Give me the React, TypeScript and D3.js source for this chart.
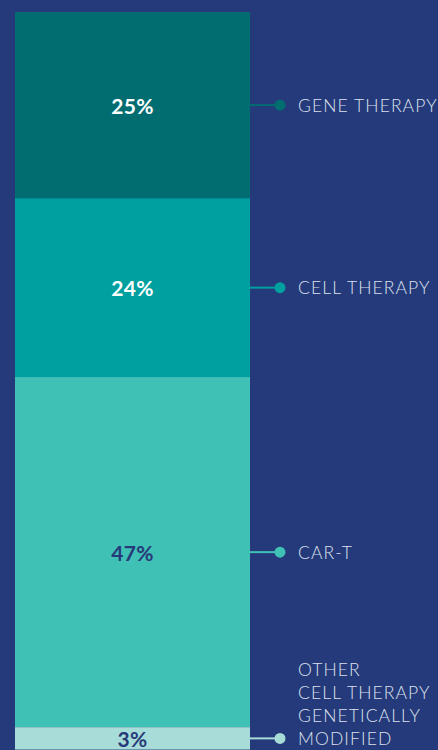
import React from "react";
import * as d3 from "d3";

const categories = ["GENE THERAPY", "CELL THERAPY", "CAR-T", "OTHER\nCELL THERAPY\nGENETICALLY\nMODIFIED"];
const values = [25, 24, 47, 3];
const fills = ["#026d71", "#00a0a0", "#3fc1b5", "#a8dcd8"];
const valueTextColors = ["#ffffff", "#ffffff", "#263a7a", "#263a7a"];

const W = 438;
const H = 750;
const BG = "#253a7b";

export default function App() {
  const y = d3.scaleLinear().domain([0, 100]).range([12, 757]);
  const x0 = 15;
  const x1 = 250;
  const dotX = 280;
  const textX = 298;
  const cum = d3.cumsum(values);
  const segs = values.map((v, i) => {
    const start = i === 0 ? 0 : cum[i - 1];
    const end = cum[i];
    return { v, i, y0: y(start), y1: y(end), mid: (y(start) + y(end)) / 2 };
  });
  return (
    <svg width={W} height={H} style={{ position: "fixed", left: 0, top: 0 }}>
      <rect x={0} y={0} width={W} height={H} fill={BG} />
      {segs.map((s) => (
        <g key={s.i}>
          <rect x={x0} y={s.y0} width={x1 - x0} height={s.y1 - s.y0} fill={fills[s.i]} />
          <text
            x={(x0 + x1) / 2}
            y={s.mid}
            textAnchor="middle"
            dominantBaseline="central"
            fontFamily="Lato, 'Open Sans', sans-serif"
            fontWeight={700}
            fontSize={21}
            letterSpacing={0.3}
            fill={valueTextColors[s.i]}
          >
            {s.v}%
          </text>
          <line x1={x1} x2={dotX} y1={s.mid} y2={s.mid} stroke={fills[s.i]} strokeWidth={2} />
          <circle cx={dotX} cy={s.mid} r={5.5} fill={fills[s.i]} />
          {categories[s.i].split("\n").map((line, j, arr) => (
            <text
              key={j}
              x={textX}
              y={s.mid + (j - (arr.length - 1)) * 23}
              dominantBaseline="central"
              fontFamily="Lato, 'Open Sans', sans-serif"
              fontWeight={300}
              fontSize={17.5}
              letterSpacing={1.1}
              fill="#dde1ec"
            >
              {line}
            </text>
          ))}
        </g>
      ))}
    </svg>
  );
}
